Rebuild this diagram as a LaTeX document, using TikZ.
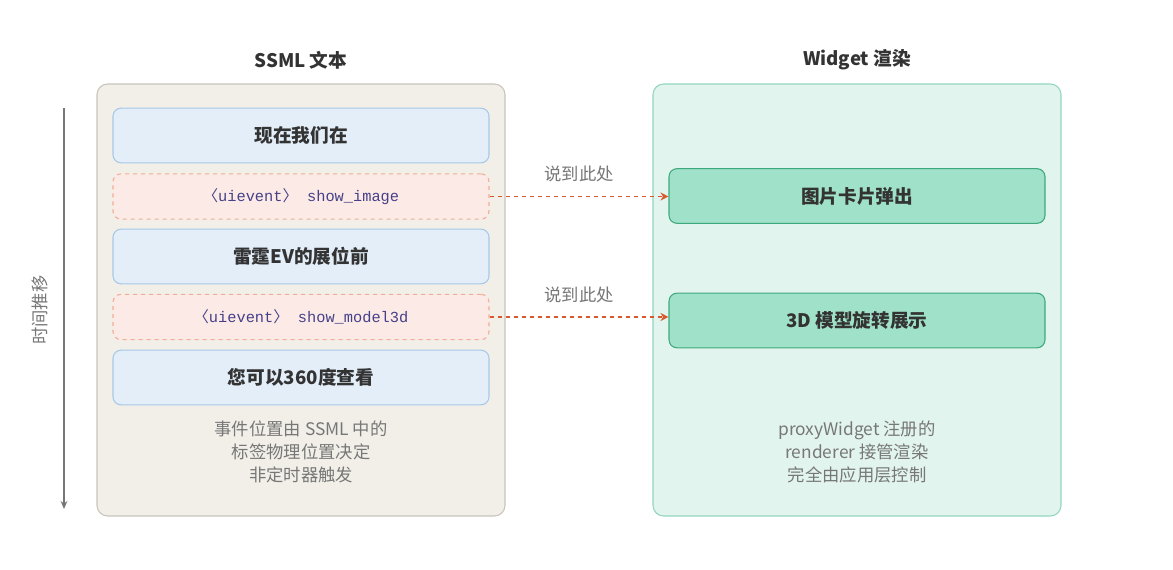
\documentclass[tikz,border=0pt]{standalone}
\usepackage{fontspec}
\setmainfont{Noto Sans CJK SC}
\newfontfamily\cjk{Noto Sans CJK SC}
\setmonofont{Liberation Mono}
\usetikzlibrary{positioning,arrows.meta}
\definecolor{panelL}{HTML}{F2EFE8}
\definecolor{panelLb}{HTML}{C8C4BC}
\definecolor{panelR}{HTML}{E2F4EE}
\definecolor{panelRb}{HTML}{92D6BE}
\definecolor{blueF}{HTML}{E3EEF9}
\definecolor{blueB}{HTML}{A8C8E8}
\definecolor{pinkF}{HTML}{FBEAE5}
\definecolor{pinkB}{HTML}{F2AC94}
\definecolor{greenF}{HTML}{A0E1C9}
\definecolor{greenB}{HTML}{3EA97B}
\definecolor{arrowC}{HTML}{D9582E}
\definecolor{txt}{HTML}{333333}
\definecolor{gtxt}{HTML}{777777}
\definecolor{code}{HTML}{46408A}
\tikzset{
  panel/.style={rounded corners=8pt, line width=0.8pt},
  textbox/.style={draw=blueB, fill=blueF, rounded corners=6pt, line width=0.8pt,
    minimum width=282pt, minimum height=41pt, font=\fontsize{14}{16}\selectfont\bfseries, text=txt},
  eventbox/.style={draw=pinkB, fill=pinkF, dashed, rounded corners=6pt, line width=0.8pt,
    minimum width=282pt, minimum height=34pt, font=\fontsize{11.5}{14}\selectfont\ttfamily, text=code},
  widgetbox/.style={draw=greenB, fill=greenF, rounded corners=6pt, line width=0.8pt,
    minimum width=282pt, minimum height=41pt, font=\fontsize{14}{16}\selectfont\bfseries, text=txt},
  trigger/.style={draw=arrowC, dashed, line width=1.2pt, -{Stealth[length=6pt,width=6pt]}},
  caption/.style={text=gtxt, font=\fontsize{13}{17}\selectfont, align=center},
  heading/.style={text=txt, font=\fontsize{14}{16}\selectfont\bfseries},
}
\begin{document}
\begin{tikzpicture}[x=0.75pt,y=-0.75pt]
\useasboundingbox[fill=white] (0,0) rectangle (1173,570);
% panels
\draw[panel, draw=panelLb, fill=panelL] (97,84) rectangle (505,516);
\draw[panel, draw=panelRb, fill=panelR] (653,84) rectangle (1061,516);
\node[heading] (titleL) at (301,60) {SSML 文本};
\node[heading] (titleR) at (857,60) {Widget 渲染};
% SSML text
\node[textbox] (seg1) at (301,135.5) {现在我们在};
\node[eventbox] (evt1) at (301,196.5) {{\cjk〈}uievent{\cjk〉} show\_image};
\node[textbox] (seg2) at (301,256.5) {雷霆EV的展位前};
\node[eventbox] (evt2) at (301,317) {{\cjk〈}uievent{\cjk〉} show\_model3d};
\node[textbox] (seg3) at (301,377.5) {您可以360度查看};
\node[caption] (capL) at (301,452) {事件位置由 SSML 中的\\标签物理位置决定\\非定时器触发};
% widgets
\node[widgetbox] (card) at (857,196) {图片卡片弹出};
\node[widgetbox] (model) at (857,320.5) {3D 模型旋转展示};
\node[caption] (capR) at (857,452) {proxyWidget 注册的\\renderer 接管渲染\\完全由应用层控制};
% triggers
\draw[trigger] (evt1.east) -- (card.west |- evt1.east) node[midway, above=7pt, caption] {说到此处};
\draw[trigger] (evt2.east) -- (model.west |- evt2.east) node[midway, above=7pt, caption] {说到此处};
% time axis
\coordinate (tTop) at (64,108);
\coordinate (tBot) at (64,509);
\draw[gtxt, line width=0.8pt, -{Stealth[length=6pt,width=5pt]}] (tTop) -- (tBot);
\node[caption, rotate=90] (tLabel) at (40,310) {时间推移};
\end{tikzpicture}
\end{document}
